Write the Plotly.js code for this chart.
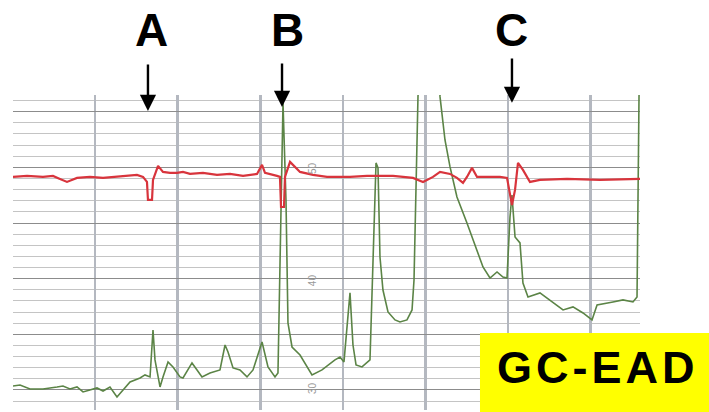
<!DOCTYPE html>
<html>
<head>
<meta charset="utf-8">
<script src="https://cdn.plot.ly/plotly-3.0.1.min.js"></script>
<style>
  html, body { margin: 0; padding: 0; background: #ffffff; }
  #chart { width: 709px; height: 412px; }
</style>
</head>
<body>
<div id="chart"></div>
<script>
// EAD response (red trace): retention units vs. signal (chart divisions)
const eadTime = [0.06, 1.76, 3.69, 4.90, 5.75, 6.60, 7.81, 9.38, 10.96, 12.65, 14.23, 15.07, 15.80,
  16.28, 16.40, 16.89, 17.01, 17.62, 18.22, 19.07, 19.92, 20.64, 21.49, 23.06, 24.76, 26.33, 27.91,
  29.60, 30.21, 30.57, 32.02, 32.38, 32.51, 32.87, 32.99, 33.60, 34.81, 36.38, 38.08, 40.86, 42.92,
  46.07, 48.49, 49.70, 50.91, 51.76, 52.97, 53.81, 54.54, 55.02, 55.63, 56.24, 57.45, 59.02, 59.87,
  60.23, 60.47, 60.84, 61.20, 61.80, 62.65, 63.86, 67.13, 71.13, 75.12, 75.97];
const eadSignal = [19.14, 19.23, 19.14, 19.23, 18.96, 18.69, 19.05, 19.14, 19.05, 19.14, 19.23, 19.32, 19.14,
  18.69, 17.07, 17.07, 18.87, 20.13, 19.59, 19.50, 19.50, 19.59, 19.41, 19.50, 19.32, 19.41, 19.23,
  19.41, 20.22, 19.50, 19.23, 19.14, 16.44, 16.44, 19.14, 20.49, 19.59, 19.32, 19.14, 19.14, 19.23,
  19.23, 19.05, 18.69, 19.14, 19.59, 19.41, 19.05, 18.60, 19.14, 19.95, 19.14, 19.14, 19.14, 19.05,
  17.70, 16.62, 17.97, 20.40, 19.77, 18.69, 18.87, 18.96, 18.87, 18.96, 18.96];

// FID response (green trace)
const fidTime = [0.06, 0.91, 2.12, 3.69, 5.39, 6.11, 6.96, 7.81, 8.54, 9.38, 10.23, 10.96, 11.80, 12.65,
  13.38, 14.23, 15.44, 16.04, 16.65, 17.01, 17.25, 17.86, 18.22, 18.83, 19.43, 20.28, 20.64, 21.73,
  22.34, 22.94, 23.91, 25.12, 25.73, 26.09, 26.70, 27.54, 28.39, 29.12, 30.21, 30.93, 31.78, 32.14,
  32.75, 33.11, 33.35, 33.84, 34.81, 35.41, 36.26, 37.47, 39.04, 39.65, 40.13, 40.86, 41.22, 41.59,
  42.31, 43.28, 44.01, 44.25, 44.49, 44.85, 45.46, 46.31, 46.91, 47.76, 48.37, 48.61, 48.85, 49.09,
  49.34, 51.51, 51.76, 52.36, 52.97, 53.81, 55.02, 55.75, 56.96, 57.81, 58.66, 59.38, 59.87, 60.23,
  60.47, 60.84, 61.44, 61.80, 62.41, 63.86, 65.07, 66.65, 67.86, 69.07, 70.16, 70.77, 72.70, 73.91,
  75.12, 75.61, 75.85, 75.97];
const fidSignal = [0.36, 0.45, 0.09, 0.09, 0.27, 0.36, 0.09, 0.27, -0.18, 0.00, 0.18, -0.09, 0.27, -0.63,
  0.00, 0.72, 1.08, 1.35, 1.17, 5.39, 2.70, 0.27, 1.17, 2.52, 2.07, 1.17, 1.08, 2.43,
  1.80, 1.17, 1.53, 1.80, 4.04, 3.41, 1.98, 1.80, 1.17, 1.80, 4.31, 2.07, 1.17, 1.53,
  25.79, 17.07, 6.02, 3.86, 3.14, 2.43, 1.35, 1.80, 2.70, 2.96, 2.52, 8.72, 4.04, 2.25,
  2.07, 2.70, 20.40, 19.95, 11.95, 8.98, 7.01, 6.29, 6.11, 6.29, 7.19, 9.88, 17.97, 26.33,
  30.50, 30.50, 26.33, 22.46, 20.04, 17.34, 15.00, 13.48, 11.05, 10.06, 10.60, 10.15, 10.06, 15.54,
  17.52, 13.75, 13.21, 9.61, 8.36, 8.72, 8.09, 7.19, 7.46, 6.92, 6.29, 7.64, 7.91, 8.09,
  7.91, 8.36, 26.33, 30.50];

// Active compounds marked on the trace
const peakLabels = ['A', 'B', 'C'];
const peakTimes = [16.40, 32.63, 60.47];
const labelTimes = [16.77, 33.35, 60.47];
// Chart-paper scale marks
const scaleLabels = ['50', '40', '30'];
const scaleLabelY = [19.95, 9.88, 0.18];
const scaleLabelX = 36.40;
const badgeText = 'GC-EAD';

const traces = [
  { x: fidTime, y: fidSignal, type: 'scatter', mode: 'lines', name: 'FID',
    line: { color: '#5b8446', width: 1.6 }, hoverinfo: 'skip' },
  { x: eadTime, y: eadSignal, type: 'scatter', mode: 'lines', name: 'EAD',
    line: { color: '#d8343c', width: 2.2 }, hoverinfo: 'skip' }
];

const tipY = [0.949, 0.962, 0.975];
const tailOffset = [-48, -45, -46];
const annotations = [];
peakLabels.forEach((lab, i) => {
  annotations.push({ x: peakTimes[i], xref: 'x', y: tipY[i], yref: 'paper', text: '',
    showarrow: true, arrowhead: 2, arrowsize: 1.35, arrowwidth: 2.4, arrowcolor: '#000000',
    ax: 0, ay: tailOffset[i], standoff: 0 });
  annotations.push({ x: labelTimes[i], xref: 'x', y: 1.205, yref: 'paper', text: '<b>' + lab + '</b>',
    showarrow: false, xanchor: 'center', yanchor: 'middle',
    font: { family: 'Liberation Sans, Arial, sans-serif', size: 46, color: '#000000' } });
});
scaleLabels.forEach((s, i) => {
  annotations.push({ x: scaleLabelX, xref: 'x', y: scaleLabelY[i], yref: 'y', text: s,
    showarrow: false, textangle: -90,
    font: { family: 'Liberation Sans, Arial, sans-serif', size: 10, color: '#9a9a9a' } });
});
annotations.push({ x: 0.933, xref: 'paper', y: 0.135, yref: 'paper', text: '<b>' + badgeText + '</b>',
  showarrow: false, xanchor: 'center', yanchor: 'middle',
  font: { family: 'Liberation Sans, Arial, sans-serif', size: 45, color: '#000000' } });

const layout = {
  width: 709, height: 412,
  margin: { l: 13, r: 69, t: 95, b: 2, pad: 0 },
  paper_bgcolor: '#ffffff', plot_bgcolor: '#ffffff',
  showlegend: false,
  xaxis: { range: [0.06, 75.97], showticklabels: false, ticks: '', zeroline: false, showline: false,
    showgrid: true, dtick: 10, tick0: 0, gridcolor: '#b4b8c0', gridwidth: 2.5, fixedrange: true },
  yaxis: { range: [-1.80, 26.50], showticklabels: false, ticks: '', zeroline: false, showline: false,
    showgrid: true, dtick: 5, tick0: 0, gridcolor: '#8c8c8c', gridwidth: 1,
    minor: { dtick: 1, tick0: 0, showgrid: true, gridcolor: '#c4c4c4', gridwidth: 1 }, fixedrange: true },
  shapes: [
    { type: 'rect', xref: 'paper', yref: 'paper', x0: 0.7448, x1: 1.12, y0: -0.02, y1: 0.2444,
      fillcolor: '#ffff00', line: { width: 0 }, layer: 'above' }
  ],
  annotations: annotations
};

Plotly.newPlot('chart', traces, layout, { staticPlot: true, displayModeBar: false }).then(() => {
  const texts = document.querySelectorAll('.annotation-text');
  texts.forEach(t => { if (t.textContent === badgeText) { t.style.letterSpacing = '4px'; } });
});
</script>
</body>
</html>
